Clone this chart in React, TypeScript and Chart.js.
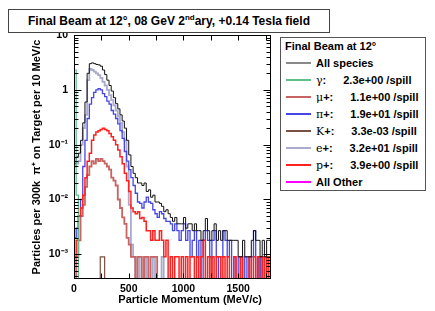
import React, { useEffect, useRef } from "react";
import { Chart, registerables } from "chart.js";

Chart.register(...registerables);

// ---------- data ----------
const BIN_WIDTH = 20; // MeV/c per drawn bin
const X_MAX = 1800;
const Y_MIN = Math.pow(10, -3.45);
const Y_MAX = 10;
const xTickValues = [0, 500, 1000, 1500];
const xMinorStep = 250;
const yTickValues = [0.001, 0.01, 0.1, 1, 10];
const yTickLabels = ["10\u207B\u00B3", "10\u207B\u00B2", "10\u207B\u00B9", "1", "10"];

const TITLE_PRE = "Final Beam at 12\u00B0, 08 GeV 2";
const TITLE_SUP = "nd";
const TITLE_POST = "ary, +0.14 Tesla field";
const X_TITLE = "Particle Momentum (MeV/c)";
const Y_TITLE = "Particles per 300k  \u03C0\u207A on Target per 10 MeV/c";
const LEGEND_HEADER = "Final Beam at 12\u00B0";

const allSpecies = [
  0.045, 0.06, 0.07, 0.12, 0.25, 0.6, 2.0, 3.0, 3.1, 3.0,
  2.9, 2.85, 2.7, 2.3, 1.9, 1.5, 1.2, 0.95, 0.72, 0.56,
  0.45, 0.35, 0.27, 0.2, 0.12, 0.065, 0.04, 0.03, 0.025, 0.02,
  0.02, 0.018, 0.02, 0.014, 0.015, 0.011, 0.012, 0.009, 0.009, 0.0085,
  0.0075, 0.006, 0.0065, 0.0055, 0.0047, 0.004, 0.0047, 0.0036, 0.0036, 0.0036,
  0.0047, 0.003, 0.0036, 0.0036, 0.0027, 0.0036, 0.0027, 0.0027, 0.0018, 0.0027,
  0.0045, 0.0027, 0.0018, 0.0027, 0.0036, 0.0018, 0.0027, 0.0018, 0.0027, 0.0027,
  0.0018, 0.0018, 0.0018, 0.0018, 0.0018, 0.0009, 0.0009, 0.0018, 0.0009, 0.0009,
  0.0009, 0.0018, 0.0027, 0.0018, 0.0018, 0.0009, 0.0018, 0.0009, 0.0018, 0.0018,
];

const gamma = [
  2.3, 0.012, 0, 0, 0, 0, 0, 0, 0, 0,
  0, 0, 0, 0, 0, 0, 0, 0, 0, 0,
  0, 0, 0, 0, 0, 0, 0, 0, 0, 0,
  0, 0, 0, 0, 0, 0, 0, 0, 0, 0,
  0, 0, 0, 0, 0, 0, 0, 0, 0, 0,
  0, 0, 0, 0, 0, 0, 0, 0, 0, 0,
  0, 0, 0, 0, 0, 0, 0, 0, 0, 0,
  0, 0, 0, 0, 0, 0, 0, 0, 0, 0,
  0, 0, 0, 0, 0, 0, 0, 0, 0, 0,
];

const muPlus = [
  0, 0.0009, 0.0018, 0.005, 0.008, 0.017, 0.028, 0.04, 0.05, 0.045,
  0.055, 0.05, 0.055, 0.05, 0.045, 0.04, 0.035, 0.025, 0.022, 0.018,
  0.01, 0.007, 0.0047, 0.0036, 0.002, 0.0015, 0.0009, 0.0009, 0, 0.0009,
  0.0009, 0, 0.0009, 0.0009, 0, 0.0009, 0.0009, 0.0009, 0, 0,
  0, 0, 0, 0, 0, 0, 0, 0, 0, 0,
  0, 0, 0, 0, 0, 0, 0, 0, 0, 0,
  0, 0, 0.0009, 0, 0, 0, 0, 0, 0, 0,
  0, 0, 0, 0, 0, 0, 0, 0, 0, 0,
  0, 0, 0, 0, 0.0009, 0, 0, 0, 0, 0,
];

const piPlus = [
  0.002, 0.003, 0.005, 0.01, 0.04, 0.12, 0.3, 0.55, 0.72, 0.9,
  1.0, 1.05, 1.0, 0.85, 0.75, 0.62, 0.55, 0.42, 0.36, 0.3,
  0.24, 0.18, 0.13, 0.075, 0.05, 0.035, 0.025, 0.018, 0.013, 0.009,
  0.0085, 0.007, 0.009, 0.011, 0.009, 0.0085, 0.0065, 0.0055, 0.0047, 0.006,
  0.0055, 0.0045, 0.004, 0.004, 0.0036, 0.0027, 0.0036, 0.0027, 0.0018, 0.0027,
  0.0036, 0.0018, 0.0027, 0.0009, 0.0018, 0.0027, 0.0009, 0.0018, 0, 0.0018,
  0.0027, 0.0018, 0.0009, 0.0018, 0.0027, 0.0009, 0, 0.0009, 0.0027, 0.0018,
  0.0009, 0.0018, 0, 0.0009, 0, 0.0009, 0.0009, 0, 0.0009, 0,
  0.0009, 0.0009, 0.0027, 0, 0.0009, 0, 0.0009, 0, 0.0009, 0.0009,
];

const kPlus = [
  0, 0, 0, 0, 0, 0, 0, 0, 0, 0,
  0, 0, 0.0009, 0.0009, 0, 0, 0, 0, 0, 0,
  0, 0, 0, 0, 0, 0, 0, 0, 0, 0,
  0, 0, 0, 0.0009, 0, 0, 0, 0, 0, 0,
  0, 0, 0, 0, 0, 0, 0, 0, 0, 0,
  0, 0, 0, 0, 0, 0, 0, 0, 0, 0,
  0, 0, 0, 0, 0, 0, 0, 0, 0, 0,
  0, 0, 0, 0, 0, 0, 0, 0, 0, 0,
  0, 0, 0, 0, 0, 0, 0, 0, 0, 0,
];

const ePlus = [
  0.04, 0.045, 0.05, 0.1, 0.2, 0.35, 1.5, 2.4, 2.3, 2.15,
  2.0, 1.85, 1.65, 1.4, 1.2, 1.0, 0.8, 0.65, 0.52, 0.42,
  0.33, 0.25, 0.17, 0.12, 0.04, 0.008, 0.0015, 0.0009, 0, 0.0009,
  0, 0, 0.0009, 0, 0, 0, 0.0009, 0, 0, 0,
  0.0009, 0, 0, 0, 0, 0, 0, 0, 0, 0,
  0, 0, 0, 0, 0, 0, 0, 0, 0, 0,
  0, 0, 0, 0, 0, 0, 0, 0, 0, 0,
  0, 0, 0, 0, 0, 0, 0.0009, 0, 0, 0,
  0.0009, 0, 0, 0, 0, 0, 0.0009, 0, 0, 0,
];

const pPlus = [
  0.0009, 0.0018, 0.005, 0.007, 0.012, 0.025, 0.05, 0.07, 0.12, 0.15,
  0.17, 0.18, 0.19, 0.2, 0.19, 0.18, 0.16, 0.14, 0.12, 0.1,
  0.08, 0.06, 0.045, 0.03, 0.022, 0.014, 0.007, 0.006, 0.0055, 0.006,
  0.0045, 0.0047, 0.004, 0.0027, 0.0027, 0.0018, 0.0027, 0.0018, 0.0018, 0.0027,
  0.0018, 0.0009, 0.0018, 0, 0.0009, 0, 0.0009, 0.0009, 0, 0.0009,
  0, 0.0009, 0, 0.0009, 0.0009, 0, 0.0009, 0, 0.0009, 0.0018,
  0, 0.0009, 0, 0.0009, 0, 0.0009, 0.0009, 0, 0.0009, 0,
  0.0009, 0, 0, 0.0009, 0, 0, 0.0009, 0, 0, 0,
  0.0009, 0, 0.0009, 0, 0.0009, 0.0009, 0, 0.0009, 0, 0.0009,
];

const allOther = [
  0, 0, 0, 0, 0, 0, 0, 0, 0, 0,
  0, 0, 0, 0, 0, 0, 0, 0, 0, 0,
  0, 0, 0, 0, 0, 0, 0, 0, 0, 0,
  0, 0, 0, 0, 0, 0, 0, 0, 0, 0,
  0, 0, 0, 0, 0, 0, 0, 0, 0, 0,
  0, 0, 0, 0, 0, 0, 0, 0, 0, 0,
  0, 0, 0, 0, 0, 0, 0, 0, 0, 0,
  0, 0, 0, 0, 0, 0, 0, 0, 0, 0,
  0, 0, 0, 0, 0, 0, 0, 0, 0, 0,
];

const seriesKeys = ["all", "gamma", "mu", "pi", "k", "e", "p", "other"];
const seriesSymbols = ["", "\u03B3", "\u03BC", "\u03C0", "K", "e", "p", ""];
const seriesSuffix = ["All species", ":", "+:", "+:", "+:", "+:", "+:", "All Other"];
const seriesRates = ["", "2.3e+00 /spill", "1.1e+00 /spill", "1.9e+01 /spill", "3.3e-03 /spill", "3.2e+01 /spill", "3.9e+00 /spill", ""];
const seriesValues = [allSpecies, gamma, muPlus, piPlus, kPlus, ePlus, pPlus, allOther];
const seriesColors = ["#111111", "#5cbf8c", "#c86464", "#4646e6", "#7a5040", "#aaaacc", "#ff2020", "#ff00ff"];
const legendColors = ["#8a8a8a", "#5cbf8c", "#c86464", "#4646e6", "#7a5040", "#aaaacc", "#ff2020", "#ff00ff"];
const seriesWidths = [1, 1.2, 1.8, 1.3, 1.2, 1.8, 1.5, 1];
const seriesOrder = [1, 0, 4, 3, 6, 5, 2, 7];

const FONT = '"Liberation Sans", Arial, Helvetica, sans-serif';

function toPoints(vals: number[]) {
  const pts = vals.map((v, i) => ({ x: i * BIN_WIDTH, y: v > 0 ? v : Y_MIN }));
  pts.push({ x: vals.length * BIN_WIDTH, y: pts[pts.length - 1].y });
  return pts;
}

const frameTicks = {
  id: "frameTicks",
  afterDraw(chart: any) {
    const { ctx, chartArea: a, scales } = chart;
    const x = scales.x;
    const y = scales.y;
    ctx.save();
    ctx.strokeStyle = "#000";
    ctx.lineWidth = 1;
    const L = Math.floor(a.left) + 0.5;
    const R = Math.floor(a.right) - 0.5;
    const T = Math.floor(a.top) + 0.5;
    const B = Math.floor(a.bottom) - 0.5;
    ctx.strokeRect(L, T, R - L, B - T);
    ctx.beginPath();
    for (let e = -4; e <= 1; e++) {
      for (let m = 1; m <= 9; m++) {
        const v = m * Math.pow(10, e);
        if (v < Y_MIN || v > Y_MAX * 1.0001) continue;
        const py = Math.round(y.getPixelForValue(v)) + 0.5;
        const len = m === 1 ? 7 : 4;
        ctx.moveTo(L, py);
        ctx.lineTo(L + len, py);
        ctx.moveTo(R, py);
        ctx.lineTo(R - len, py);
      }
    }
    for (let v = 0; v <= X_MAX; v += xMinorStep) {
      const px = Math.round(x.getPixelForValue(v)) + 0.5;
      ctx.moveTo(px, B);
      ctx.lineTo(px, B - 5);
      ctx.moveTo(px, T);
      ctx.lineTo(px, T + 5);
    }
    ctx.stroke();
    ctx.fillStyle = "#000";
    ctx.font = "bold 11px " + FONT;
    ctx.textAlign = "right";
    ctx.textBaseline = "middle";
    ctx.fillText(X_TITLE, a.right - 9, a.bottom + 21);
    ctx.restore();
  },
};

export default function App() {
  const ref = useRef<HTMLCanvasElement | null>(null);

  useEffect(() => {
    if (!ref.current) return;
    const datasets = seriesValues.map((vals, i) => ({
      label: seriesKeys[i],
      data: toPoints(vals),
      borderColor: seriesColors[i],
      backgroundColor: seriesColors[i],
      borderWidth: seriesWidths[i],
      stepped: true as const,
      pointRadius: 0,
      fill: false,
      order: seriesOrder[i],
    }));
    const chart = new Chart(ref.current, {
      type: "line",
      data: { datasets },
      options: {
        animation: false,
        responsive: false,
        maintainAspectRatio: false,
        layout: { padding: { top: 35, right: 164, left: 0, bottom: 0 } },
        plugins: {
          legend: { display: false },
          tooltip: { enabled: false },
        },
        scales: {
          x: {
            type: "linear",
            min: 0,
            max: X_MAX,
            grid: { display: false, drawTicks: false },
            border: { display: false },
            afterBuildTicks: (s: any) => {
              s.ticks = xTickValues.map((v) => ({ value: v }));
            },
            afterFit: (s: any) => {
              s.height = 32;
            },
            ticks: {
              padding: 4,
              maxRotation: 0,
              autoSkip: false,
              color: "#000",
              font: { family: FONT, size: 10.5, weight: "bold" },
              callback: (v: any) => String(v),
            },
          },
          y: {
            type: "logarithmic",
            min: Y_MIN,
            max: Y_MAX,
            grid: { display: false, drawTicks: false },
            border: { display: false },
            afterBuildTicks: (s: any) => {
              s.ticks = yTickValues.map((v) => ({ value: v }));
            },
            afterFit: (s: any) => {
              s.width = 74;
            },
            ticks: {
              padding: 6,
              autoSkip: false,
              color: "#000",
              font: { family: FONT, size: 10.5, weight: "bold" },
              callback: (v: any) => {
                const idx = yTickValues.findIndex(
                  (t) => Math.abs(Math.log10(t) - Math.log10(Number(v))) < 1e-6
                );
                return idx >= 0 ? yTickLabels[idx] : "";
              },
            },
            title: {
              display: true,
              text: Y_TITLE,
              color: "#000",
              font: { family: FONT, size: 11, weight: "bold" },
              padding: { top: 30, bottom: 0 },
            },
          },
        },
      } as any,
      plugins: [frameTicks],
    });
    return () => chart.destroy();
  }, []);

  const rowTop = (i: number) => 24.7 + 17 * i - 7;

  return (
    <div
      style={{
        position: "fixed",
        left: 0,
        top: 0,
        width: 435,
        height: 311,
        background: "#fff",
        overflow: "hidden",
        fontFamily: FONT,
      }}
    >
      <canvas
        ref={ref}
        width={435}
        height={311}
        style={{ position: "absolute", left: 0, top: 0, display: "block" }}
      />
      <div
        style={{
          position: "absolute",
          left: 8,
          top: 9,
          width: 322,
          height: 24,
          boxSizing: "border-box",
          border: "1px solid #444",
          background: "#fff",
          display: "flex",
          alignItems: "center",
          justifyContent: "center",
          fontWeight: "bold",
          fontSize: 12,
          color: "#000",
          whiteSpace: "nowrap",
        }}
      >
        <span>
          {TITLE_PRE}
          <sup style={{ fontSize: 8, lineHeight: 0 }}>{TITLE_SUP}</sup>
          {TITLE_POST}
        </span>
      </div>
      <div
        style={{
          position: "absolute",
          left: 280,
          top: 37,
          width: 146,
          height: 154,
          boxSizing: "border-box",
          border: "1px solid #555",
          background: "#fff",
          color: "#000",
        }}
      >
        <div
          style={{
            position: "absolute",
            left: 4,
            top: 1,
            fontWeight: "bold",
            fontSize: 11,
            lineHeight: "14px",
            whiteSpace: "nowrap",
          }}
        >
          {LEGEND_HEADER}
        </div>
        {seriesKeys.map((k, i) => (
          <div
            key={k}
            style={{
              position: "absolute",
              left: 0,
              top: rowTop(i),
              width: 144,
              height: 14,
              lineHeight: "14px",
              fontSize: 11,
              fontWeight: "bold",
              whiteSpace: "nowrap",
            }}
          >
            <div
              style={{
                position: "absolute",
                left: 5,
                top: 6,
                width: 25,
                height: 2,
                background: legendColors[i],
              }}
            />
            <div style={{ position: "absolute", left: 35, top: 0, display: "flex" }}>
              <span>
                {seriesSymbols[i] ? (
                  <span style={{ fontWeight: "normal", fontFamily: '"DejaVu Serif", serif', fontSize: 11 }}>
                    {seriesSymbols[i]}
                  </span>
                ) : null}
                {seriesSuffix[i]}
              </span>
              {seriesRates[i] ? <span style={{ marginLeft: 17 }}>{seriesRates[i]}</span> : null}
            </div>
          </div>
        ))}
      </div>
    </div>
  );
}
